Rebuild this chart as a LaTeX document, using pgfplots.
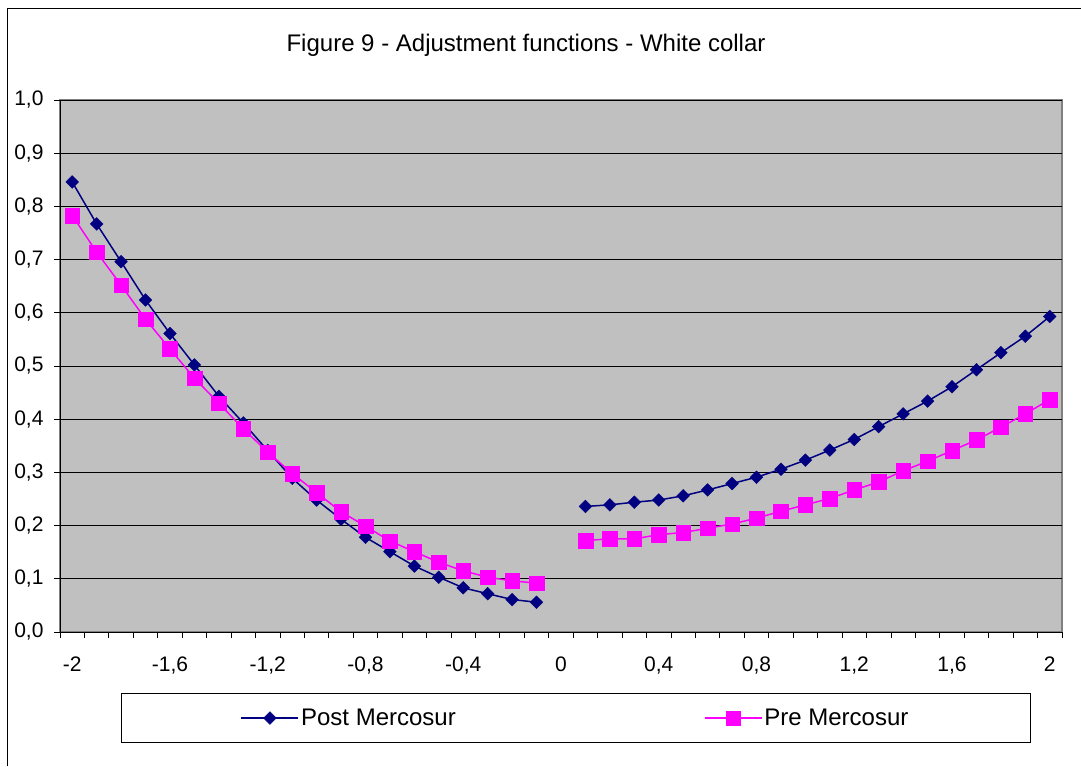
\documentclass[border=0pt]{standalone}
\usepackage{pgfplots}
\pgfplotsset{compat=1.18}
\usepackage{pgfplotstable}
\usepackage{fontspec}
\setmainfont{Liberation Sans}
\definecolor{navyc}{HTML}{000080}
\definecolor{magc}{HTML}{FF00FF}
\definecolor{plotbg}{HTML}{C0C0C0}
\definecolor{bordgray}{HTML}{808080}

\pgfplotstableread{
x post pre
-2.0 0.846 0.783
-1.9 0.767 0.714
-1.8 0.696 0.652
-1.7 0.624 0.588
-1.6 0.561 0.532
-1.5 0.502 0.477
-1.4 0.443 0.430
-1.3 0.393 0.382
-1.2 0.341 0.338
-1.1 0.289 0.298
-1.0 0.248 0.262
-0.9 0.212 0.226
-0.8 0.178 0.199
-0.7 0.151 0.171
-0.6 0.124 0.151
-0.5 0.103 0.131
-0.4 0.083 0.115
-0.3 0.072 0.103
-0.2 0.061 0.096
-0.1 0.056 0.092
0.0 nan nan
0.1 0.236 0.172
0.2 0.239 0.175
0.3 0.244 0.175
0.4 0.248 0.183
0.5 0.256 0.187
0.6 0.267 0.195
0.7 0.279 0.203
0.8 0.291 0.214
0.9 0.306 0.227
1.0 0.323 0.239
1.1 0.342 0.251
1.2 0.362 0.267
1.3 0.386 0.282
1.4 0.410 0.303
1.5 0.434 0.321
1.6 0.461 0.341
1.7 0.493 0.361
1.8 0.525 0.385
1.9 0.556 0.410
2.0 0.593 0.437
}\datatable

\begin{document}
\begin{tikzpicture}
\useasboundingbox (0,0) rectangle (1081pt,766pt);
\draw[line width=1pt, black] (7pt,0pt) -- (7pt,757pt) -- (1081pt,757pt);
\begin{axis}[
  at={(60pt,134pt)}, anchor=south west,
  scale only axis, width=1002pt, height=532pt,
  xmin=-2.05, xmax=2.05, ymin=0, ymax=1,
  axis lines=left,
  axis line style={-, black, line width=0.9pt},
  axis background/.style={fill=plotbg, draw=bordgray, line width=1.6pt},
  ymajorgrids, grid style={black, line width=0.8pt},
  ytick={0,0.1,0.2,0.3,0.4,0.5,0.6,0.7,0.8,0.9,1.0},
  xtick={-2.05,-1.95,-1.85,-1.75,-1.65,-1.55,-1.45,-1.35,-1.25,-1.15,-1.05,-0.95,-0.85,-0.75,-0.65,-0.55,-0.45,-0.35,-0.25,-0.15,-0.05,0.05,0.15,0.25,0.35,0.45,0.55,0.65,0.75,0.85,0.95,1.05,1.15,1.25,1.35,1.45,1.55,1.65,1.75,1.85,1.95,2.05},
  xticklabels={},
  extra x ticks={-2,-1.6,-1.2,-0.8,-0.4,0,0.4,0.8,1.2,1.6,2},
  extra x tick labels={-2,{-1,6},{-1,2},{-0,8},{-0,4},0,{0,4},{0,8},{1,2},{1,6},2},
  extra x tick style={tick style={draw=none}},
  tick align=outside, major tick length=6pt,
  tick style={black, line width=0.8pt},
  /pgf/number format/.cd, use comma, fixed, fixed zerofill, precision=1, assume math mode=true,
  /pgfplots/.cd,
  yticklabel style={font=\fontsize{21}{25}\selectfont, xshift=-7pt},
  xticklabel style={font=\fontsize{21}{25}\selectfont, yshift=-15pt},
  unbounded coords=jump,
  legend columns=2,
  legend style={at={(0.5145,-0.1617)}, anchor=center, draw=black, line width=0.8pt,
    font=\fontsize{24}{28}\selectfont, inner xsep=119.5pt, inner ysep=13.5pt,
    /tikz/every even column/.append style={column sep=246pt}},
  legend image code/.code={\draw[mark repeat=2,mark phase=2,#1] plot coordinates {(0pt,0pt) (28.5pt,0pt) (57pt,0pt)};},
]
\addplot[color=navyc, line width=1.5pt, mark=square*, mark size=4.5pt,
  mark options={rotate=45, solid, fill=navyc, line width=0.4pt}] table[x=x, y=post] {\datatable};
\addlegendentry{Post Mercosur}
\addplot[color=magc, line width=1.5pt, mark=square*, mark size=7.3pt,
  mark options={solid, fill=magc, line width=0.4pt}] table[x=x, y=pre] {\datatable};
\addlegendentry{Pre Mercosur}
\end{axis}
\node[font=\fontsize{24}{28}\selectfont] at (526pt,721pt) {Figure 9 - Adjustment functions - White collar};
\end{tikzpicture}
\end{document}
